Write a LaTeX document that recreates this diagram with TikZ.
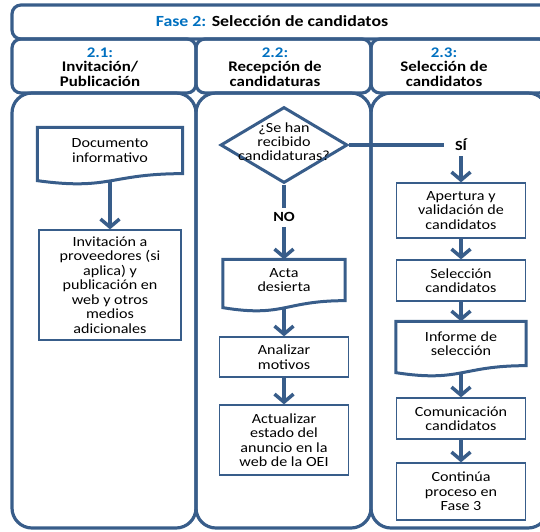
\documentclass[tikz,border=0pt]{standalone}
\usepackage{fontspec}
\setmainfont{Carlito}[FakeStretch=1.15]
\usetikzlibrary{shapes.geometric,arrows.meta,calc}
\definecolor{oeiblue}{RGB}{56,93,138}
\definecolor{numblue}{RGB}{0,112,192}
% outline of a document node, wavy bottom edge
\newcommand\docframe[1]{%
\draw [docline] (#1.south east) -- (#1.north east) -- (#1.north west) -- ($(#1.south west)+(0,7)$)
  .. controls ($(#1.south)+(0,17)$) and (#1.south) .. (#1.south east) -- cycle;}

\begin{document}
\begin{tikzpicture}[x=1pt,y=-1pt,
  lane/.style={draw=oeiblue,line width=3.2pt,rounded corners=20pt},
  head/.style={draw=oeiblue,line width=3.2pt,rounded corners=9pt},
  title/.style={inner sep=0pt,font=\fontsize{15.5}{16}\selectfont\bfseries},
  headtext/.style={inner sep=0pt,align=center,font=\fontsize{14.7}{14.5}\selectfont\bfseries},
  box/.style={draw=oeiblue,line width=1.3pt,inner sep=2pt,align=center,font=\fontsize{14}{14.5}\selectfont},
  docbox/.style={box,draw=none},
  docline/.style={draw=oeiblue,line width=3pt},
  decision/.style={diamond,draw=oeiblue,line width=3pt,inner sep=0pt,minimum width=127pt,minimum height=76pt},
  dectext/.style={inner sep=0pt,align=center,yshift=3pt,font=\fontsize{14}{14}\selectfont},
  answer/.style={inner sep=1pt,font=\fontsize{14}{14}\selectfont\bfseries},
  flow/.style={draw=oeiblue,line width=3.5pt,-{Straight Barb[length=8pt,width=19pt]}},
  link/.style={draw=oeiblue,line width=3.5pt}
]
\clip (0,0) rectangle (540,531);
% lanes and headers
\draw [lane] (12,93) rectangle (196,528);
\draw [lane] (196,93) rectangle (371,528);
\draw [lane] (371,93) rectangle (548,528);
\draw [head] (12,39) rectangle (196,93);
\draw [head] (196,39) rectangle (371,93);
\draw [head] (371,39) rectangle (548,93);
\draw [head] (12,5) rectangle (560,39);
\node [title] (fase) at (272,21) {\textcolor{numblue}{Fase 2:} Selección de candidatos};
\node [headtext] (h1) at (100,67) {\textcolor{numblue}{2.1:}\\Invitación/\\Publicación};
\node [headtext] (h2) at (275,67) {\textcolor{numblue}{2.2:}\\Recepción de\\candidaturas};
\node [headtext] (h3) at (444,67) {\textcolor{numblue}{2.3:}\\Selección de\\candidatos};
% 2.1
\node [docbox,minimum width=144pt,minimum height=45pt] (docinf) at (110,150.5) {Documento\\informativo};
\docframe{docinf}
\node [box,minimum width=142pt,minimum height=110pt] (invit) at (110,285) {Invitación a\\proveedores (si\\aplica) y\\publicación en\\web y otros\\medios\\adicionales};
\draw [flow,shorten <=7pt] (docinf) -- (invit);
% 2.2
\node [decision,label={[dectext]center:{¿Se han\\recibido\\candidaturas?}}] (dec) at (284,145) {};
\node [answer] (no) at (284,217) {NO};
\node [docbox,minimum width=121pt,minimum height=40pt] (acta) at (284,280) {Acta\\desierta};
\docframe{acta}
\node [box,minimum width=129pt,minimum height=40pt] (motivos) at (284,357) {Analizar\\motivos};
\node [box,minimum width=129pt,minimum height=70pt] (anuncio) at (284,440) {Actualizar\\estado del\\anuncio en la\\web de la OEI};
\draw [link,shorten >=3pt] (dec) -- (no);
\draw [flow,shorten <=4pt] (no) -- (acta);
\draw [flow,shorten <=7pt] (acta) -- (motivos);
\draw [flow] (motivos) -- (anuncio);
% 2.3
\node [answer] (si) at (461,145) {SÍ};
\node [box,minimum width=129pt,minimum height=55pt] (apert) at (461,210.5) {Apertura y\\validación de\\candidatos};
\node [box,minimum width=129pt,minimum height=41pt] (selec) at (461,280.5) {Selección\\candidatos};
\node [docbox,minimum width=129pt,minimum height=43pt] (informe) at (461,343.5) {Informe de\\selección};
\docframe{informe}
\node [box,minimum width=129pt,minimum height=41pt] (comun) at (461,418.5) {Comunicación\\candidatos};
\node [box,minimum width=129pt,minimum height=57pt] (fase3) at (461,491.5) {Continúa\\proceso en\\Fase 3};
\draw [link,shorten >=10pt] (dec) -- (si);
\draw [flow,shorten <=4pt] (si) -- (apert);
\draw [flow] (apert) -- (selec);
\draw [flow] (selec) -- (informe);
\draw [flow,shorten <=7pt] (informe) -- (comun);
\draw [flow] (comun) -- (fase3);
\end{tikzpicture}
\end{document}
